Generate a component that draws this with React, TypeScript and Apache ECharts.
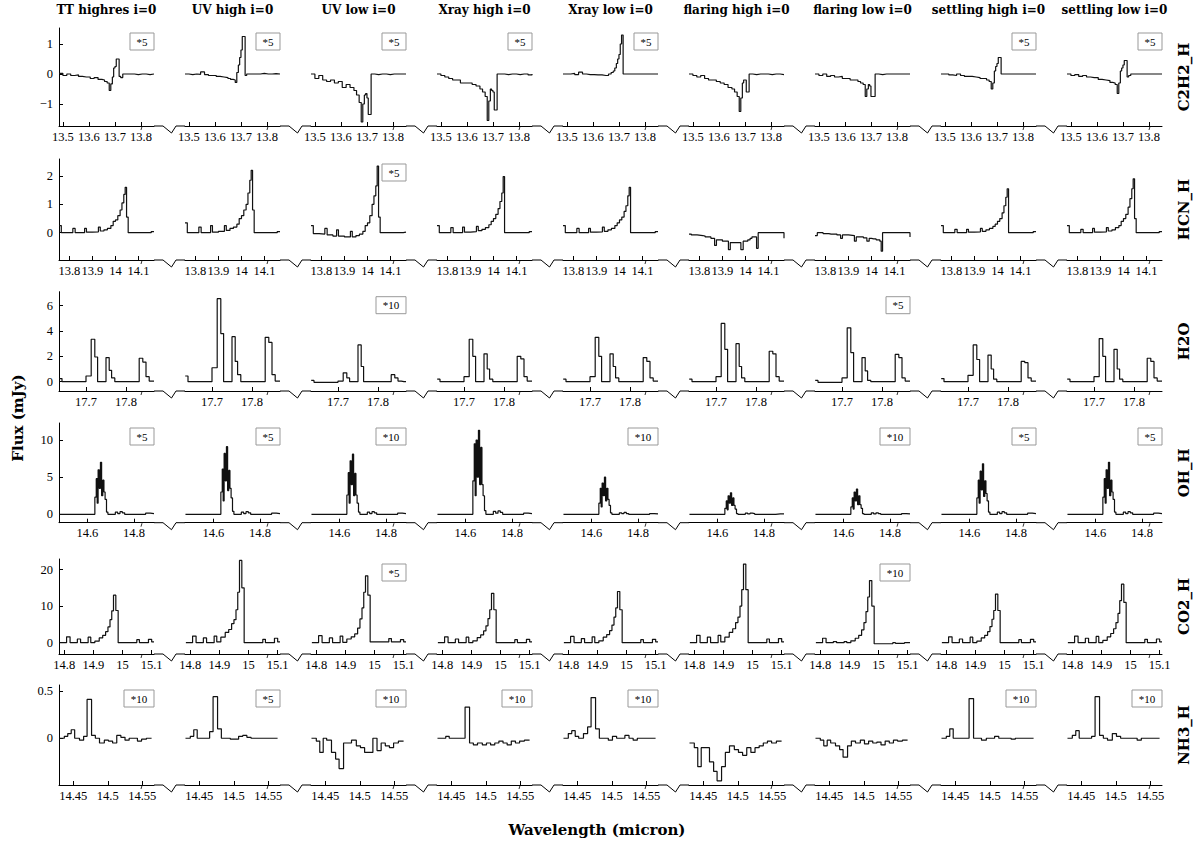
import React, { useEffect, useRef } from "react";
import * as echarts from "echarts";

// ---------- labels ----------
const columnTitles = [
  "TT highres i=0", "UV high i=0", "UV low i=0", "Xray high i=0", "Xray low i=0",
  "flaring high i=0", "flaring low i=0", "settling high i=0", "settling low i=0",
];
const molecules = ["C2H2_H", "HCN_H", "H2O", "OH_H", "CO2_H", "NH3_H"];

// ---------- C2H2_H ----------
const c2h2Wl = [13.485, 13.5, 13.515, 13.53, 13.545, 13.56, 13.575, 13.59, 13.605, 13.62, 13.635, 13.65, 13.66, 13.67, 13.678, 13.684, 13.69, 13.695, 13.7, 13.705, 13.71, 13.716, 13.722, 13.73, 13.745, 13.76, 13.775, 13.79, 13.805, 13.82, 13.835, 13.85];
const c2h2_tt = [0.02, -0.05, 0, -0.05, -0.03, -0.08, -0.1, -0.1, -0.15, -0.12, -0.18, -0.2, -0.25, -0.3, -0.55, -0.33, -0.1, 0.2, 0.25, 0.5, 0.5, -0.08, -0.12, 0, 0, 0, -0.02, 0, 0, -0.02, 0, 0];
const c2h2_uvHigh = [0, -0.02, 0, -0.01, 0.07, -0.02, -0.05, -0.05, -0.08, -0.1, -0.12, -0.15, -0.18, -0.2, -0.28, 0.05, 0.3, 0.55, 0.8, 1.25, 1.25, -0.05, 0, 0, 0, 0, 0.02, 0, 0, 0.01, 0, 0];
const c2h2_uvLow = [0, -0.15, -0.05, -0.2, -0.25, -0.2, -0.3, -0.25, -0.45, -0.35, -0.45, -0.55, -0.7, -0.95, -1.6, -1.0, -0.7, -0.65, -0.8, -1.35, -1.35, 0, 0, -0.02, 0, 0, -0.02, 0, 0, 0, 0, 0];
const c2h2_xrayHigh = [0, -0.05, -0.1, -0.15, -0.2, -0.2, -0.3, -0.3, -0.3, -0.35, -0.4, -0.5, -0.6, -0.75, -1.55, -0.9, -0.5, -0.55, -0.6, -1.2, -1.2, 0, 0, 0, -0.02, 0, 0, -0.02, 0, 0, -0.03, 0];
const c2h2_xrayLow = [0, 0, 0.02, -0.02, 0.06, 0, -0.02, -0.02, -0.03, -0.03, -0.05, -0.05, 0, 0.05, 0.1, 0.2, 0.35, 0.5, 0.65, 1.0, 1.3, 0, 0, 0, 0, 0, 0, 0, 0, 0, 0, 0];
const c2h2_flaringHigh = [0, -0.05, -0.1, -0.05, -0.15, -0.2, -0.2, -0.25, -0.3, -0.35, -0.45, -0.5, -0.6, -0.75, -1.25, -0.8, -0.3, -0.2, -0.2, -0.6, -0.6, 0, 0, -0.02, 0, 0, 0, -0.02, 0, 0, -0.02, 0];
const c2h2_flaringLow = [0, -0.05, 0, -0.08, -0.05, -0.1, -0.08, -0.15, -0.15, -0.2, -0.2, -0.25, -0.3, -0.35, -0.75, -0.5, -0.35, -0.4, -0.75, -0.75, -0.75, 0, 0, -0.02, 0, 0, 0, 0, 0, 0, 0, 0];
const c2h2_settlingHigh = [0, 0, -0.03, -0.05, 0, -0.05, -0.08, -0.08, -0.1, -0.12, -0.15, -0.15, -0.2, -0.25, -0.5, -0.3, 0.1, 0.25, 0.35, 0.55, 0.55, 0, 0, 0, 0, 0, 0, 0, 0, 0, 0, 0];
const c2h2_settlingLow = [0, -0.05, -0.02, -0.08, -0.05, -0.1, -0.12, -0.12, -0.18, -0.2, -0.22, -0.28, -0.3, -0.35, -0.65, -0.3, 0.1, 0.2, 0.3, 0.45, 0.45, -0.1, -0.05, 0, 0, 0, 0, 0, 0, 0, 0, 0];
const c2h2Scale = ["*5", "*5", "*5", "*5", "*5", "", "", "*5", "*5"];
const c2h2XTicks = [13.5, 13.6, 13.7, 13.8];
const c2h2YTicks = [-1, 0, 1];

// ---------- HCN_H ----------
const hcnWl = [13.755, 13.765, 13.79, 13.815, 13.825, 13.85, 13.866, 13.874, 13.9, 13.926, 13.934, 13.95, 13.965, 13.98, 13.99, 14.0, 14.01, 14.02, 14.028, 14.036, 14.042, 14.048, 14.055, 14.08, 14.11, 14.14, 14.155, 14.167];
const hcn_tt = [0.25, 0, 0, 0.15, 0, 0, 0.15, 0.02, 0.03, 0.2, 0.06, 0.1, 0.15, 0.25, 0.4, 0.45, 0.6, 0.8, 1.05, 1.35, 1.6, 0.55, 0, 0, 0, 0, 0.04, 0.04];
const hcn_uvHigh = [0.35, 0, 0, 0.2, 0, 0, 0.25, 0.02, 0.05, 0.25, 0.08, 0.15, 0.2, 0.3, 0.5, 0.6, 0.8, 1.0, 1.4, 1.85, 2.2, 0.8, 0, 0, 0, 0, 0.04, 0.04];
const hcn_uvLow = [0.25, -0.03, -0.05, 0.15, -0.08, -0.12, 0.1, -0.12, -0.15, 0.05, -0.15, -0.1, -0.05, 0.05, 0.25, 0.35, 0.6, 1.0, 1.3, 1.65, 2.35, 0.55, 0, 0, 0, 0, 0.02, 0.02];
const hcn_xrayHigh = [0.25, 0, 0, 0.18, 0, 0, 0.2, 0.02, 0.04, 0.22, 0.07, 0.12, 0.18, 0.28, 0.4, 0.5, 0.65, 0.85, 1.1, 1.4, 1.98, 0, 0, 0, 0, 0, 0.04, 0.04];
const hcn_xrayLow = [0.25, 0, 0, 0.15, 0, 0, 0.15, 0.02, 0.03, 0.2, 0.05, 0.1, 0.15, 0.25, 0.35, 0.45, 0.55, 0.75, 0.95, 1.3, 1.6, 0, 0, 0, 0, 0, 0.04, 0.04];
const hcn_flaringHigh = [-0.05, -0.08, -0.1, -0.12, -0.15, -0.2, -0.45, -0.25, -0.3, -0.6, -0.35, -0.35, -0.35, -0.6, -0.3, -0.3, -0.25, -0.2, -0.15, -0.15, -0.15, -0.55, 0, 0, 0, 0, 0, -0.2];
const hcn_flaringLow = [-0.1, 0, -0.03, -0.05, -0.05, -0.08, -0.2, -0.08, -0.1, -0.3, -0.15, -0.15, -0.18, -0.3, -0.2, -0.22, -0.22, -0.25, -0.25, -0.3, -0.65, 0, 0, 0, 0, 0, 0, -0.15];
const hcn_settlingHigh = [0.25, 0, 0, 0.12, 0, 0, 0.12, 0.02, 0.03, 0.15, 0.05, 0.1, 0.15, 0.22, 0.3, 0.4, 0.5, 0.7, 0.95, 1.25, 1.55, 0, 0, 0, 0, 0, 0.04, 0.04];
const hcn_settlingLow = [0.25, 0, 0, 0.12, 0, 0, 0.15, 0.02, 0.03, 0.18, 0.06, 0.1, 0.18, 0.25, 0.4, 0.5, 0.65, 0.9, 1.2, 1.55, 1.9, 0.5, 0, 0, 0, 0, 0.04, 0.04];
const hcnScale = ["", "", "*5", "", "", "", "", "", ""];
const hcnXTicks = [13.8, 13.9, 14, 14.1];
const hcnYTicks = [0, 1, 2];

// ---------- H2O ----------
const h2oWl = [17.633, 17.64, 17.7, 17.713, 17.722, 17.729, 17.75, 17.758, 17.764, 17.772, 17.833, 17.842, 17.85, 17.858, 17.865, 17.87];
const h2o_tt = [0.25, 0, 0.45, 3.35, 1.95, 0, 1.9, 0.9, 0.3, 0, 1.85, 1.55, 0.4, 0.05, 0.05, 0.05];
const h2o_uvHigh = [0.45, 0, 1.1, 6.55, 3.8, 0, 3.55, 1.6, 0.55, 0, 3.5, 3.1, 0.55, 0.05, 0.05, 0.05];
const h2o_uvLow = [0.1, -0.05, 0.05, 0.7, 0.3, 0, 2.9, 1.2, 0, 0, 0.55, 0.3, 0.05, 0, 0, 0];
const h2o_xrayHigh = [0.2, 0, 0.4, 3.35, 2.0, 0, 2.2, 1.0, 0.2, 0, 2.0, 1.8, 0.4, 0.05, 0.05, 0.05];
const h2o_xrayLow = [0.2, 0, 0.4, 3.5, 2.0, 0, 2.2, 1.2, 0.3, 0, 1.9, 1.6, 0.3, 0.05, 0.05, 0.05];
const h2o_flaringHigh = [0.2, 0, 0.4, 4.6, 2.55, 0, 3.0, 1.2, 0.3, 0, 2.4, 2.2, 0.4, 0.05, 0.05, 0.05];
const h2o_flaringLow = [0.1, -0.05, 0.3, 4.25, 2.3, 0, 1.9, 0.85, 0.1, 0, 2.15, 1.9, 0.3, 0.05, 0.05, 0.05];
const h2o_settlingHigh = [0.25, 0, 0.5, 2.9, 1.75, 0, 2.1, 1.0, 0.2, 0, 1.6, 1.5, 0.3, 0.05, 0.05, 0.05];
const h2o_settlingLow = [0.2, 0, 0.4, 3.4, 2.0, 0, 2.55, 1.0, 0.2, 0, 1.85, 1.6, 0.3, 0.05, 0.05, 0.05];
const h2oScale = ["", "", "*10", "", "", "", "*5", "", ""];
const h2oXTicks = [17.7, 17.8];
const h2oYTicks = [0, 2, 4, 6];

// ---------- OH_H ----------
const ohWl = [14.48, 14.632, 14.638, 14.642, 14.646, 14.651, 14.656, 14.661, 14.666, 14.671, 14.676, 14.682, 14.688, 14.72, 14.73, 14.74, 14.75, 14.76, 14.85, 14.87, 14.886];
const oh_tt = [0, 2.3, 4.8, 1.5, 6.0, 3.5, 7.0, 2.5, 4.6, 3.0, 2.0, 0.3, 0, 0.3, 0.1, 0.35, 0.2, 0, 0.15, 0.1, 0.1];
const oh_uvHigh = [0, 3.0, 6.1, 1.8, 8.2, 4.5, 9.1, 3.2, 5.9, 3.5, 2.2, 0.4, 0, 0.3, 0.1, 0.35, 0.2, 0, 0.15, 0.1, 0.1];
const oh_uvLow = [0, 2.6, 5.6, 1.5, 7.2, 4.0, 8.1, 2.5, 5.5, 2.6, 1.5, 0.3, 0, 0.3, 0.1, 0.35, 0.2, 0, 0.15, 0.1, 0.1];
const oh_xrayHigh = [0, 4.5, 9.5, 2.5, 10.0, 5.0, 11.3, 4.0, 9.0, 4.0, 2.5, 0.5, 0, 0.4, 0.15, 0.45, 0.25, 0, 0.15, 0.1, 0.1];
const oh_xrayLow = [0, 1.5, 3.5, 1.0, 4.2, 2.5, 5.0, 1.8, 3.5, 2.0, 1.2, 0.2, 0, 0.2, 0.1, 0.25, 0.1, 0, 0.1, 0.05, 0.05];
const oh_flaringHigh = [0, 0.8, 1.8, 0.6, 2.5, 1.5, 2.9, 1.2, 2.2, 1.2, 0.7, 0.1, 0, 0.15, 0.05, 0.15, 0.1, 0, 0.05, 0.05, 0.05];
const oh_flaringLow = [0, 1.0, 2.2, 0.7, 3.0, 1.8, 3.4, 1.3, 2.5, 1.3, 0.8, 0.1, 0, 0.2, 0.05, 0.2, 0.1, 0, 0.1, 0.05, 0.05];
const oh_settlingHigh = [0, 2.2, 4.6, 1.5, 5.8, 3.3, 6.8, 2.4, 4.5, 2.8, 1.8, 0.3, 0, 0.3, 0.1, 0.35, 0.2, 0, 0.15, 0.1, 0.1];
const oh_settlingLow = [0, 2.3, 4.8, 1.5, 6.0, 3.5, 7.0, 2.5, 4.6, 3.0, 2.0, 0.3, 0, 0.3, 0.1, 0.35, 0.2, 0, 0.15, 0.1, 0.1];
const ohScale = ["*5", "*5", "*10", "", "*10", "", "*10", "*5", "*5"];
const ohXTicks = [14.6, 14.8];
const ohYTicks = [0, 5, 10];

// ---------- CO2_H ----------
const co2Wl = [14.785, 14.808, 14.82, 14.845, 14.856, 14.882, 14.891, 14.905, 14.92, 14.932, 14.942, 14.95, 14.957, 14.963, 14.969, 14.977, 14.985, 15.049, 15.058, 15.089, 15.1, 15.108];
const co2_tt = [0, 1.6, 0, 1.0, 0, 1.5, 0, 0.4, 1.3, 2.0, 3.0, 4.3, 6.3, 8.7, 13.0, 8.8, 0, 0.8, 0, 0.9, 0.2, 0.2];
const co2_uvHigh = [0, 1.8, 0, 1.3, 0, 1.8, 0.2, 1.5, 2.8, 3.6, 5.2, 6.3, 9.0, 13.8, 22.5, 15.0, 0, 0.9, 0, 1.2, 0.2, 0.2];
const co2_uvLow = [0, 1.9, 0, 1.3, 0, 1.8, 0.1, 1.0, 1.6, 2.4, 4.0, 6.5, 9.5, 13.8, 18.3, 13.0, 0.2, 1.1, 0.2, 0.8, 0.2, 0.2];
const co2_xrayHigh = [0, 1.6, 0, 1.0, 0, 1.5, 0, 0.5, 1.4, 2.1, 3.2, 4.6, 6.6, 9.0, 13.5, 9.0, 0, 0.8, 0, 0.9, 0.2, 0.2];
const co2_xrayLow = [0, 1.7, 0, 1.1, 0, 1.6, 0, 0.5, 1.5, 2.2, 3.3, 4.8, 7.0, 9.5, 14.0, 9.0, 0, 0.8, 0, 0.9, 0.2, 0.2];
const co2_flaringHigh = [0, 2.0, 0, 1.5, 0, 2.0, 0.2, 1.5, 2.8, 3.8, 5.5, 7.0, 10.0, 14.5, 21.5, 14.5, 0, 1.0, 0, 1.1, 0.2, 0.2];
const co2_flaringLow = [0, 1.2, 0, 0.3, 0, 0.3, 0, 0.5, 1.2, 2.0, 3.5, 5.5, 8.5, 12.5, 17.0, 10.0, -0.3, 0, -0.2, 0, 0, 0];
const co2_settlingHigh = [0, 1.6, 0, 1.0, 0, 1.5, 0, 0.4, 1.3, 2.0, 3.0, 4.4, 6.4, 8.8, 13.3, 8.8, 0, 0.8, 0, 0.9, 0.2, 0.2];
const co2_settlingLow = [0, 1.8, 0, 1.2, 0, 1.7, 0, 0.6, 1.6, 2.5, 3.8, 5.5, 8.0, 11.5, 16.0, 11.0, 0, 0.9, 0, 1.0, 0.2, 0.2];
const co2Scale = ["", "", "*5", "", "", "", "*10", "", ""];
const co2XTicks = [14.8, 14.9, 15, 15.1];
const co2YTicks = [0, 10, 20];

// ---------- NH3_H ----------
const nh3Wl = [14.43, 14.437, 14.442, 14.447, 14.452, 14.459, 14.465, 14.47, 14.4765, 14.482, 14.488, 14.495, 14.501, 14.507, 14.513, 14.519, 14.525, 14.531, 14.537, 14.543, 14.549, 14.556, 14.5635];
const nh3_tt = [0, 0.02, 0.05, 0.09, 0, -0.02, 0.02, 0.41, 0.03, 0, -0.05, -0.02, -0.03, -0.05, 0.03, 0.01, -0.02, 0, 0, -0.03, -0.01, 0, 0];
const nh3_uvHigh = [0, 0.02, 0.09, 0, 0, 0, 0.07, 0.44, 0.1, 0, 0, -0.01, -0.01, 0.02, 0.03, 0.01, 0, 0, 0, 0, 0, 0, 0];
const nh3_uvLow = [0, -0.03, -0.15, 0, -0.02, -0.15, -0.22, -0.32, -0.05, -0.05, -0.02, -0.08, -0.1, -0.15, -0.15, 0, -0.13, -0.05, -0.08, -0.1, -0.05, -0.03, -0.03];
const nh3_xrayHigh = [0, 0, 0.02, 0, 0, 0, 0, 0.33, -0.05, -0.07, -0.05, -0.07, -0.05, -0.07, -0.05, -0.03, -0.05, -0.07, -0.03, -0.05, -0.03, -0.02, -0.02];
const nh3_xrayLow = [0, 0.05, 0.08, 0.02, 0, 0.05, 0.12, 0.43, 0.1, 0, 0, -0.02, 0.02, 0, 0, 0.03, 0, -0.02, 0, 0, 0, 0, 0];
const nh3_flaringHigh = [-0.05, -0.1, -0.3, -0.1, -0.1, -0.25, -0.35, -0.45, -0.3, -0.15, -0.08, -0.12, -0.15, -0.18, -0.1, -0.15, -0.1, -0.08, -0.05, -0.03, -0.05, -0.03, -0.03];
const nh3_flaringLow = [0, -0.02, -0.08, -0.02, -0.05, -0.08, -0.12, -0.2, -0.08, -0.03, -0.05, -0.02, -0.06, -0.03, -0.05, -0.04, -0.07, -0.03, -0.05, -0.02, -0.03, -0.02, -0.02];
const nh3_settlingHigh = [0, 0.02, 0.1, 0, 0, 0, 0, 0.42, 0, 0, -0.02, 0, 0, 0.02, 0, 0, 0, -0.01, 0, 0, 0, 0, 0];
const nh3_settlingLow = [0, 0.03, 0.08, 0, 0, 0, 0.02, 0.44, 0.03, 0, -0.02, 0.05, 0.02, 0, 0, 0, 0, -0.02, 0, 0, 0, 0, 0];
const nh3Scale = ["*10", "*5", "*10", "*10", "*10", "", "", "*10", "*10"];
const nh3XTicks = [14.45, 14.5, 14.55];
const nh3YTicks = [0, 0.5];

// ---------- assembly ----------
const rowData = [
  { wl: c2h2Wl, flux: [c2h2_tt, c2h2_uvHigh, c2h2_uvLow, c2h2_xrayHigh, c2h2_xrayLow, c2h2_flaringHigh, c2h2_flaringLow, c2h2_settlingHigh, c2h2_settlingLow], scale: c2h2Scale, xTicks: c2h2XTicks, yTicks: c2h2YTicks },
  { wl: hcnWl, flux: [hcn_tt, hcn_uvHigh, hcn_uvLow, hcn_xrayHigh, hcn_xrayLow, hcn_flaringHigh, hcn_flaringLow, hcn_settlingHigh, hcn_settlingLow], scale: hcnScale, xTicks: hcnXTicks, yTicks: hcnYTicks },
  { wl: h2oWl, flux: [h2o_tt, h2o_uvHigh, h2o_uvLow, h2o_xrayHigh, h2o_xrayLow, h2o_flaringHigh, h2o_flaringLow, h2o_settlingHigh, h2o_settlingLow], scale: h2oScale, xTicks: h2oXTicks, yTicks: h2oYTicks },
  { wl: ohWl, flux: [oh_tt, oh_uvHigh, oh_uvLow, oh_xrayHigh, oh_xrayLow, oh_flaringHigh, oh_flaringLow, oh_settlingHigh, oh_settlingLow], scale: ohScale, xTicks: ohXTicks, yTicks: ohYTicks },
  { wl: co2Wl, flux: [co2_tt, co2_uvHigh, co2_uvLow, co2_xrayHigh, co2_xrayLow, co2_flaringHigh, co2_flaringLow, co2_settlingHigh, co2_settlingLow], scale: co2Scale, xTicks: co2XTicks, yTicks: co2YTicks },
  { wl: nh3Wl, flux: [nh3_tt, nh3_uvHigh, nh3_uvLow, nh3_xrayHigh, nh3_xrayLow, nh3_flaringHigh, nh3_flaringLow, nh3_settlingHigh, nh3_settlingLow], scale: nh3Scale, xTicks: nh3XTicks, yTicks: nh3YTicks },
];

// layout (pixels) and axis ranges per row
const rowTop = [28, 159, 291.7, 423, 559, 685];
const rowBottom = [126, 260, 391, 522.7, 654, 785];
const xMin = [13.485, 13.755, 17.6325, 14.478, 14.782, 14.4293];
const xMax = [13.85, 14.167, 17.87, 14.886, 15.108, 14.567];
const yMin = [-1.733, -0.963, -0.734, -1.13, -3.11, -0.494];
const yMax = [1.533, 2.6, 7.1, 12.29, 22.9, 0.563];

const PANEL_LEFT = 59;
const PANEL_W = 95;
const PITCH = 126;
const TICK_FONT = '"Liberation Serif", "DejaVu Serif", serif';
const BOLD_FONT = '"DejaVu Serif", serif';

const fmt = (v: number) => {
  const s = String(Math.round(v * 1000) / 1000);
  return v < 0 ? "\u2212" + s.slice(1) : s;
};

function buildOption() {
  const grid: any[] = [];
  const xAxis: any[] = [];
  const yAxis: any[] = [];
  const series: any[] = [];
  const graphic: any[] = [];

  rowData.forEach((row, r) => {
    const top = rowTop[r];
    const h = rowBottom[r] - rowTop[r];
    for (let c = 0; c < 9; c++) {
      const idx = r * 9 + c;
      const left = PANEL_LEFT + PITCH * c;
      grid.push({ left, top, width: PANEL_W, height: h });
      xAxis.push({
        type: "value", gridIndex: idx, min: xMin[r], max: xMax[r],
        axisLine: { show: true, onZero: false, lineStyle: { color: "#000", width: 1 } },
        axisTick: { show: true, inside: true, length: 4, customValues: row.xTicks, lineStyle: { color: "#000", width: 1 } },
        axisLabel: { show: true, customValues: row.xTicks, formatter: fmt, fontFamily: TICK_FONT, fontSize: 12.5, color: "#000", margin: 4 },
        splitLine: { show: false },
      });
      yAxis.push({
        type: "value", gridIndex: idx, min: yMin[r], max: yMax[r], show: c === 0,
        axisLine: { show: true, onZero: false, lineStyle: { color: "#000", width: 1 } },
        axisTick: { show: true, inside: true, length: 4, customValues: row.yTicks, lineStyle: { color: "#000", width: 1 } },
        axisLabel: { show: true, customValues: row.yTicks, formatter: fmt, fontFamily: TICK_FONT, fontSize: 12.5, color: "#000", margin: 6 },
        splitLine: { show: false },
      });
      series.push({
        type: "line", xAxisIndex: idx, yAxisIndex: idx, step: "end", symbol: "none", silent: true,
        data: row.wl.map((w, i) => [w, row.flux[c][i]]),
        lineStyle: { color: "#111", width: 1.2 },
      });
      // scale box
      const s = row.scale[c];
      if (s) {
        const bw = s.length > 2 ? 30 : 24;
        graphic.push({
          type: "rect", silent: true,
          shape: { x: left + PANEL_W - bw, y: top + 5, width: bw, height: 17 },
          style: { fill: "#fff", stroke: "#999", lineWidth: 1 },
        });
        graphic.push({
          type: "text", silent: true,
          x: left + PANEL_W - bw / 2, y: top + 13.5,
          style: { text: s, font: '11px ' + TICK_FONT, fill: "#000", textAlign: "center", textVerticalAlign: "middle" },
        });
      }
      const yb = rowBottom[r];
      // small slanted mark just below the axis line
      graphic.push({
        type: "line", silent: true,
        shape: { x1: left + 83, y1: yb + 0.5, x2: left + 82, y2: yb + 4 },
        style: { stroke: "#000", lineWidth: 0.8 },
      });
      // break marks
      if (c < 8) {
        graphic.push({
          type: "polyline", silent: true,
          shape: { points: [[left + PANEL_W, yb], [left + 104, yb], [left + 112.5, yb + 7], [left + 117, yb], [left + PITCH, yb]] },
          style: { stroke: "#000", lineWidth: 1, fill: "none" },
        });
      }
    }
    // molecule label on the right
    graphic.push({
      type: "text", silent: true, x: 1184, y: (rowTop[r] + rowBottom[r]) / 2, rotation: Math.PI / 2,
      style: { text: molecules[r], font: 'bold 15px ' + BOLD_FONT, fill: "#000", textAlign: "center", textVerticalAlign: "middle" },
    });
  });

  columnTitles.forEach((t, c) => {
    graphic.push({
      type: "text", silent: true, x: PANEL_LEFT + PITCH * c + PANEL_W / 2, y: 10,
      style: { text: t, font: 'bold 12px ' + BOLD_FONT, fill: "#000", textAlign: "center", textVerticalAlign: "middle" },
    });
  });
  graphic.push({
    type: "text", silent: true, x: 18, y: 418, rotation: Math.PI / 2,
    style: { text: "Flux (mJy)", font: 'bold 15px ' + BOLD_FONT, fill: "#000", textAlign: "center", textVerticalAlign: "middle" },
  });
  graphic.push({
    type: "text", silent: true, x: 597, y: 830,
    style: { text: "Wavelength (micron)", font: 'bold 15px ' + BOLD_FONT, fill: "#000", textAlign: "center", textVerticalAlign: "middle" },
  });

  return {
    animation: false,
    backgroundColor: "#fff",
    grid, xAxis, yAxis, series, graphic,
  };
}

export default function App() {
  const ref = useRef<HTMLDivElement>(null);
  useEffect(() => {
    if (!ref.current) return;
    const chart = echarts.init(ref.current, null, { renderer: "svg" });
    chart.setOption(buildOption() as any);
    return () => chart.dispose();
  }, []);
  return <div ref={ref} style={{ position: "fixed", left: 0, top: 0, width: 1200, height: 843 }} />;
}
